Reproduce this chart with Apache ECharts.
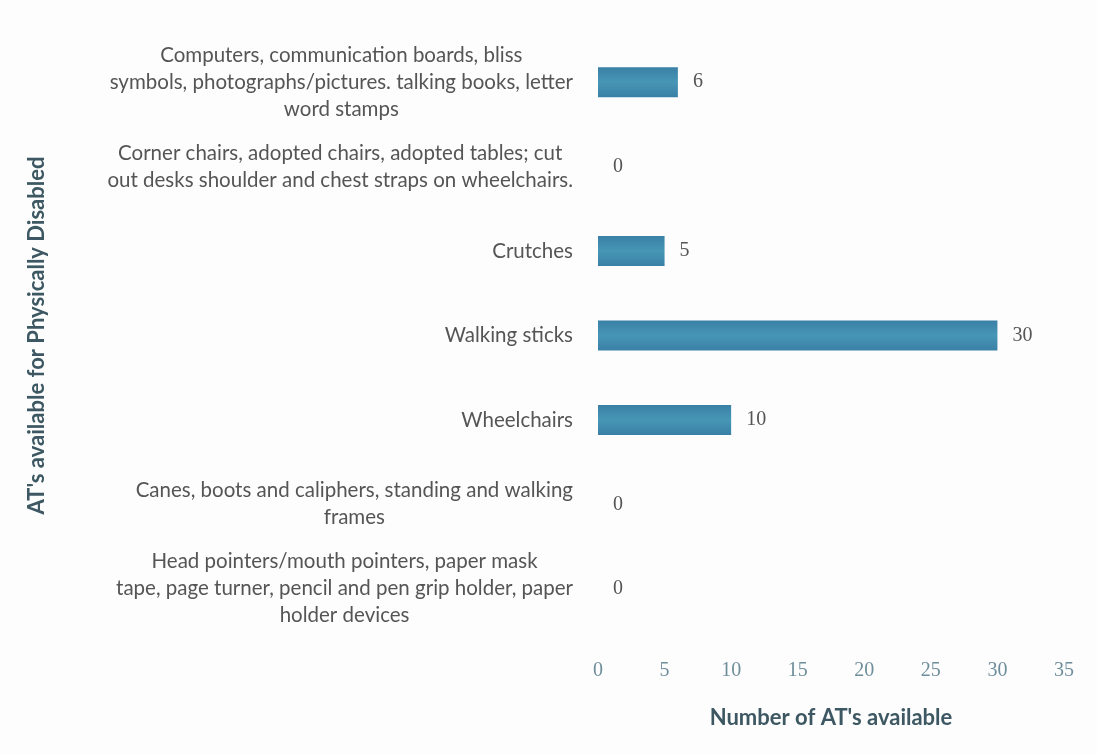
<!DOCTYPE html>
<html>
<head>
<meta charset="utf-8">
<script src="https://cdn.jsdelivr.net/npm/echarts@6/dist/echarts.min.js"></script>
<style>
  html, body { margin: 0; padding: 0; background: #fdfdfd; }
  #main { width: 1097px; height: 754px; }
</style>
</head>
<body>
<div id="main"></div>
<script>
// categories listed top to bottom as in the picture
const categories = [
  'Computers, communication boards, bliss\nsymbols, photographs/pictures. talking books, letter\nword stamps',
  'Corner chairs, adopted chairs, adopted tables; cut\nout desks shoulder and chest straps on wheelchairs.',
  'Crutches',
  'Walking sticks',
  'Wheelchairs',
  'Canes, boots and caliphers, standing and walking\nframes',
  'Head pointers/mouth pointers, paper mask\ntape, page turner, pencil and pen grip holder, paper\nholder devices'
];
const counts = [6, 0, 5, 30, 10, 0, 0];

const chart = echarts.init(document.getElementById('main'));
chart.setOption({
  backgroundColor: '#fdfdfd',
  grid: { left: 598, right: 33, top: 40, bottom: 123 },
  xAxis: {
    type: 'value',
    min: 0,
    max: 35,
    interval: 5,
    name: "Number of AT's available",
    nameLocation: 'middle',
    nameGap: 76,
    nameTextStyle: { fontFamily: 'Lato', fontSize: 22, fontWeight: 'bold', color: '#3d5863' },
    axisLine: { show: false },
    axisTick: { show: false },
    splitLine: { show: false },
    axisLabel: { margin: 30, fontFamily: 'Liberation Serif', fontSize: 20, color: '#6f8e9b' }
  },
  yAxis: {
    type: 'category',
    inverse: true,
    data: categories,
    name: "AT's available for Physically Disabled",
    nameLocation: 'middle',
    nameGap: 550,
    nameTextStyle: { fontFamily: 'Lato', fontSize: 22, fontWeight: 'bold', color: '#3d5863' },
    axisLine: { show: false },
    axisTick: { show: false },
    axisLabel: {
      margin: 25,
      formatter: function (v) {
        return v.split('\n').map(l => '{c|' + l + '}').join('\n');
      },
      rich: {
        c: { align: 'center', fontFamily: 'Lato', fontSize: 20.5, lineHeight: 27, color: '#555' }
      }
    }
  },
  series: [{
    type: 'bar',
    data: counts,
    barWidth: 30,
    itemStyle: {
      color: new echarts.graphic.LinearGradient(0, 0, 0, 1, [
        { offset: 0, color: '#3a80a6' },
        { offset: 0.5, color: '#4796b6' },
        { offset: 1, color: '#3a80a6' }
      ])
    },
    label: {
      show: true,
      position: 'right',
      distance: 15,
      fontFamily: 'Liberation Serif',
      fontSize: 20,
      color: '#555'
    }
  }]
});
</script>
</body>
</html>
